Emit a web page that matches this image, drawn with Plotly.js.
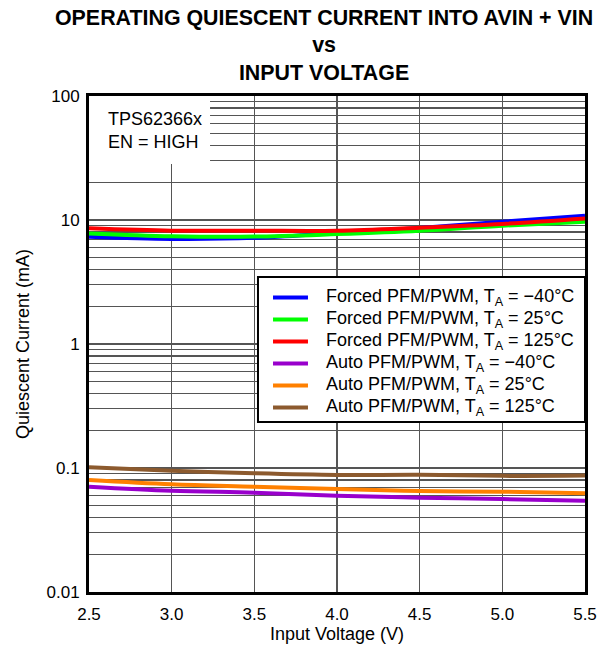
<!DOCTYPE html>
<html>
<head>
<meta charset="utf-8">
<script src="https://cdn.plot.ly/plotly-3.0.1.min.js"></script>
<style>html,body{margin:0;padding:0;background:#fff;}#chart{width:599px;height:645px;}</style>
</head>
<body>
<div id="chart"></div>
<script>
// Input voltage (V)
const vin = [2.5, 3.0, 3.5, 4.0, 4.5, 5.0, 5.5];

// Quiescent current (mA)
const forcedM40 = [7.33, 7.04, 7.18, 7.86, 8.62, 9.69, 10.8];
const forced25  = [7.8, 7.4, 7.35, 7.7, 8.2, 9.0, 9.7];
const forced125 = [8.57, 8.2, 8.2, 8.2, 8.67, 9.3, 10.3];
const autoM40   = [0.0707, 0.0656, 0.0632, 0.0598, 0.0576, 0.0562, 0.0545];
const auto25    = [0.080, 0.0739, 0.0707, 0.0677, 0.0652, 0.0644, 0.0625];
const auto125   = [0.1013, 0.0951, 0.0906, 0.0878, 0.0882, 0.0864, 0.087];

const seriesNames = [
  'Forced PFM/PWM, T<sub>A</sub> = \u221240°C',
  'Forced PFM/PWM, T<sub>A</sub> = 25°C',
  'Forced PFM/PWM, T<sub>A</sub> = 125°C',
  'Auto PFM/PWM, T<sub>A</sub> = \u221240°C',
  'Auto PFM/PWM, T<sub>A</sub> = 25°C',
  'Auto PFM/PWM, T<sub>A</sub> = 125°C'
];
const seriesData = [forcedM40, forced25, forced125, autoM40, auto25, auto125];
const seriesColors = ['#0000ff', '#00ff00', '#ff0000', '#9900cc', '#ff8000', '#8c5a2e'];

const yTickVals = [0.01, 0.1, 1, 10, 100];
const yTickText = ['0.01', '0.1', '1', '10', '100'];

const FONT = 'Liberation Sans, Arial, sans-serif';
const GRID = '#555555';

const traces = seriesData.map((d, i) => ({
  x: vin, y: d, type: 'scatter', mode: 'lines', name: seriesNames[i],
  line: {color: seriesColors[i], width: 4, shape: 'spline', smoothing: 1},
  showlegend: false, hoverinfo: 'skip'
}));

// Manual legend (box, samples, labels) in paper coordinates
const shapes = [
  // white info box top-left
  {type: 'rect', xref: 'paper', yref: 'paper', x0: 0, x1: 0.244, y0: 0.863, y1: 1,
   fillcolor: '#ffffff', line: {width: 0}, layer: 'above'},
  // legend box
  {type: 'rect', xref: 'paper', yref: 'paper', x0: 0.3407, x1: 1, y0: 0.3427, y1: 0.635,
   fillcolor: '#ffffff', line: {color: '#000000', width: 2}, layer: 'above'}
];
const annotations = [
  {xref: 'paper', yref: 'paper', x: 0.034, y: 0.953, xanchor: 'left', yanchor: 'middle',
   text: 'TPS62366x', showarrow: false, font: {family: FONT, size: 18, color: '#000'}},
  {xref: 'paper', yref: 'paper', x: 0.034, y: 0.907, xanchor: 'left', yanchor: 'middle',
   text: 'EN = HIGH', showarrow: false, font: {family: FONT, size: 18, color: '#000'}}
];
const rowY0 = 0.5938, rowStep = 0.04435;
seriesNames.forEach((n, i) => {
  const yy = rowY0 - i * rowStep;
  shapes.push({type: 'line', xref: 'paper', yref: 'paper', x0: 0.371, x1: 0.4415, y0: yy, y1: yy,
    line: {color: seriesColors[i], width: 4}, layer: 'above'});
  annotations.push({xref: 'paper', yref: 'paper', x: 0.4738, y: yy, xanchor: 'left', yanchor: 'middle',
    text: n, showarrow: false, font: {family: FONT, size: 18, color: '#000'}});
});

const layout = {
  width: 599, height: 645,
  margin: {l: 89, r: 14, t: 96, b: 53},
  paper_bgcolor: '#ffffff', plot_bgcolor: '#ffffff',
  font: {family: FONT, size: 17, color: '#000'},
  title: {
    text: '<b>OPERATING QUIESCENT CURRENT INTO AVIN + VIN</b><br><b>vs</b><br><b>INPUT VOLTAGE</b>',
    font: {family: FONT, size: 21.4, color: '#000'},
    xref: 'container', x: 0.541, xanchor: 'center',
    yref: 'container', y: 0.962, yanchor: 'top'
  },
  xaxis: {
    type: 'linear', range: [2.5, 5.5], dtick: 0.5, tick0: 2.5, tickformat: '.1f',
    showgrid: true, gridcolor: GRID, gridwidth: 1.2,
    showline: true, linecolor: '#000', linewidth: 3, mirror: true,
    ticks: '', zeroline: false, ticklabelstandoff: 5,
    tickfont: {family: FONT, size: 17},
    title: {text: 'Input Voltage (V)', font: {family: FONT, size: 18}, standoff: 0}
  },
  yaxis: {
    type: 'log', range: [-2, 2],
    tickmode: 'array', tickvals: yTickVals, ticktext: yTickText,
    showgrid: true, gridcolor: GRID, gridwidth: 1.2,
    minor: {dtick: 'D1', showgrid: true, gridcolor: GRID, gridwidth: 1.2, ticks: ''},
    showline: true, linecolor: '#000', linewidth: 3, mirror: true,
    ticks: '', zeroline: false, ticklabelstandoff: 3,
    tickfont: {family: FONT, size: 17},
    title: {text: 'Quiescent Current (mA)', font: {family: FONT, size: 18}, standoff: 13}
  },
  shapes: shapes,
  annotations: annotations,
  showlegend: false
};

Plotly.newPlot('chart', traces, layout, {displayModeBar: false, staticPlot: true});
</script>
</body>
</html>
